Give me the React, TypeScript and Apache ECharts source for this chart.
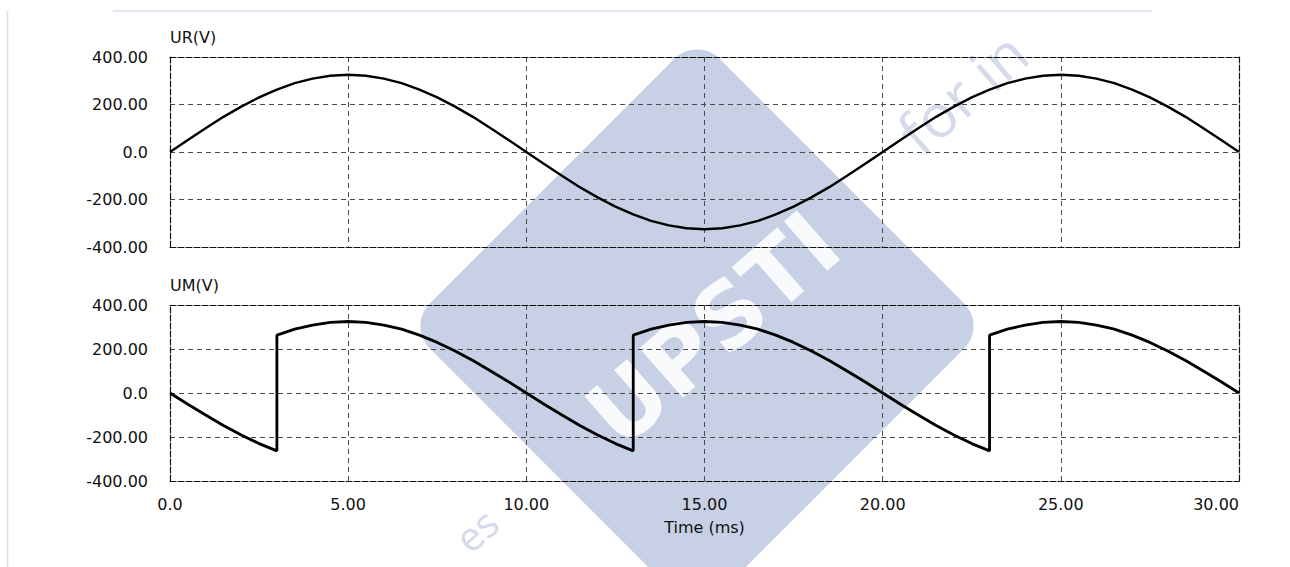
import React, { useEffect, useRef } from "react";
import * as echarts from "echarts";

// Time axis (ms) shared by UR samples
const timeMs = [
  0, 0.5, 1, 1.5, 2, 2.5, 3, 3.5, 4, 4.5, 5, 5.5, 6, 6.5, 7, 7.5, 8, 8.5, 9, 9.5,
  10, 10.5, 11, 11.5, 12, 12.5, 13, 13.5, 14, 14.5, 15, 15.5, 16, 16.5, 17, 17.5, 18, 18.5, 19, 19.5,
  20, 20.5, 21, 21.5, 22, 22.5, 23, 23.5, 24, 24.5, 25, 25.5, 26, 26.5, 27, 27.5, 28, 28.5, 29, 29.5,
  30,
];

// UR(V)
const urVolts = [
  0, 51, 100, 148, 191, 230, 263, 290, 309, 321, 325, 321, 309, 290, 263, 230, 191, 148, 100, 51,
  0, -51, -100, -148, -191, -230, -263, -290, -309, -321, -325, -321, -309, -290, -263, -230, -191, -148, -100, -51,
  0, 51, 100, 148, 191, 230, 263, 290, 309, 321, 325, 321, 309, 290, 263, 230, 191, 148, 100, 51,
  0,
];

// UM(V) sample times (jumps at 3, 13, 23 ms appear twice)
const umTimeMs = [
  0, 0.5, 1, 1.5, 2, 2.5, 3,
  3, 3.5, 4, 4.5, 5, 5.5, 6, 6.5, 7, 7.5, 8, 8.5, 9, 9.5, 10, 10.5, 11, 11.5, 12, 12.5, 13,
  13, 13.5, 14, 14.5, 15, 15.5, 16, 16.5, 17, 17.5, 18, 18.5, 19, 19.5, 20, 20.5, 21, 21.5, 22, 22.5, 23,
  23, 23.5, 24, 24.5, 25, 25.5, 26, 26.5, 27, 27.5, 28, 28.5, 29, 29.5, 30,
];

// UM(V)
const umVolts = [
  0, -51, -100, -148, -191, -230, -263,
  263, 290, 309, 321, 325, 321, 309, 290, 263, 230, 191, 148, 100, 51, 0, -51, -100, -148, -191, -230, -263,
  263, 290, 309, 321, 325, 321, 309, 290, 263, 230, 191, 148, 100, 51, 0, -51, -100, -148, -191, -230, -263,
  263, 290, 309, 321, 325, 321, 309, 290, 263, 230, 191, 148, 100, 51, 0,
];

const xTicks = { min: 0, max: 30, interval: 5 };
const yTicks = { min: -400, max: 400, interval: 200 };
const panelNames = ["UR(V)", "UM(V)"];
const xAxisName = "Time (ms)";

const FONT = '"DejaVu Sans", "Liberation Sans", sans-serif';

function fmt(v: number) {
  return v === 0 ? "0.0" : v.toFixed(2);
}

export default function App() {
  const ref = useRef<HTMLDivElement>(null);

  useEffect(() => {
    if (!ref.current) return;
    const chart = echarts.init(ref.current, null, { renderer: "svg" });

    const gridDash = { color: "#4a4a4a", type: [5, 4] as any, width: 1 };
    const borderDash = { color: "#111", type: [6, 2] as any, width: 1.2 };

    const mkX = (gridIndex: number, position: "bottom" | "top", labels: boolean, main: boolean) => ({
      type: "value",
      gridIndex,
      position,
      ...xTicks,
      axisLine: { show: true, onZero: false, lineStyle: borderDash },
      axisTick: { show: false },
      axisLabel: {
        show: labels,
        formatter: fmt,
        margin: 15,
        color: "#111",
        fontFamily: FONT,
        fontSize: 16,
        alignMaxLabel: "right",
      },
      splitLine: main
        ? { show: true, showMinLine: false, showMaxLine: false, lineStyle: gridDash }
        : { show: false },
      name: labels ? xAxisName : "",
      nameLocation: "middle",
      nameGap: 38,
      nameTextStyle: { color: "#111", fontFamily: FONT, fontSize: 16 },
    });

    const mkY = (gridIndex: number, position: "left" | "right", main: boolean, name: string) => ({
      type: "value",
      gridIndex,
      position,
      ...yTicks,
      axisLine: { show: true, onZero: false, lineStyle: borderDash },
      axisTick: { show: false },
      axisLabel: {
        show: main,
        formatter: fmt,
        margin: 22,
        color: "#111",
        fontFamily: FONT,
        fontSize: 16,
      },
      splitLine: main
        ? { show: true, showMinLine: false, showMaxLine: false, lineStyle: gridDash }
        : { show: false },
      name,
      nameLocation: "end",
      nameGap: 12,
      nameTextStyle: {
        color: "#111",
        fontFamily: FONT,
        fontSize: 16,
        align: "left",
        verticalAlign: "bottom",
      },
    });

    const option: any = {
      animation: false,
      backgroundColor: "#ffffff",
      grid: [
        { left: 170, top: 57, width: 1069, height: 190 },
        { left: 170, top: 305, width: 1069, height: 176 },
      ],
      xAxis: [
        mkX(0, "bottom", false, true),
        mkX(0, "top", false, false),
        mkX(1, "bottom", true, true),
        mkX(1, "top", false, false),
      ],
      yAxis: [
        mkY(0, "left", true, panelNames[0]),
        mkY(0, "right", false, ""),
        mkY(1, "left", true, panelNames[1]),
        mkY(1, "right", false, ""),
      ],
      graphic: [
        {
          type: "line",
          z: -20,
          silent: true,
          shape: { x1: 7.5, y1: 11, x2: 7.5, y2: 567 },
          style: { stroke: "#e0e0e0", lineWidth: 1.5 },
        },
        {
          type: "line",
          z: -20,
          silent: true,
          shape: { x1: 113, y1: 11, x2: 1152, y2: 11 },
          style: { stroke: "#e3e8f5", lineWidth: 2 },
        },
        {
          type: "rect",
          z: -10,
          silent: true,
          x: 697,
          y: 326,
          rotation: Math.PI / 4,
          shape: { x: -205, y: -205, width: 410, height: 410, r: 32 },
          style: { fill: "#c8d0e6" },
        },
        {
          type: "text",
          z: -9,
          silent: true,
          x: 713,
          y: 329,
          rotation: 0.72,
          style: {
            text: "UPSTI",
            fill: "rgba(255,255,255,0.88)",
            font: 'bold 90px "DejaVu Sans"',
            align: "center",
            verticalAlign: "middle",
          },
        },
        {
          type: "text",
          z: -9,
          silent: true,
          x: 962,
          y: 92,
          rotation: 0.72,
          style: {
            text: "for in",
            fill: "#d5dbeb",
            font: '60px "Open Sans"',
            align: "center",
            verticalAlign: "middle",
          },
        },
        {
          type: "text",
          z: -9,
          silent: true,
          x: 476,
          y: 530,
          rotation: 0.72,
          style: {
            text: "es",
            fill: "#d5dbeb",
            font: '40px "Open Sans"',
            align: "center",
            verticalAlign: "middle",
          },
        },
      ],
      series: [
        {
          type: "line",
          xAxisIndex: 0,
          yAxisIndex: 0,
          showSymbol: false,
          lineStyle: { color: "#000", width: 2.4 },
          data: timeMs.map((t, i) => [t, urVolts[i]]),
        },
        {
          type: "line",
          xAxisIndex: 2,
          yAxisIndex: 2,
          showSymbol: false,
          lineStyle: { color: "#000", width: 2.8 },
          data: umTimeMs.map((t, i) => [t, umVolts[i]]),
        },
      ],
    };

    chart.setOption(option);
    return () => chart.dispose();
  }, []);

  return (
    <div
      ref={ref}
      style={{ position: "fixed", left: 0, top: 0, width: "1290px", height: "567px", background: "#fff" }}
    />
  );
}
